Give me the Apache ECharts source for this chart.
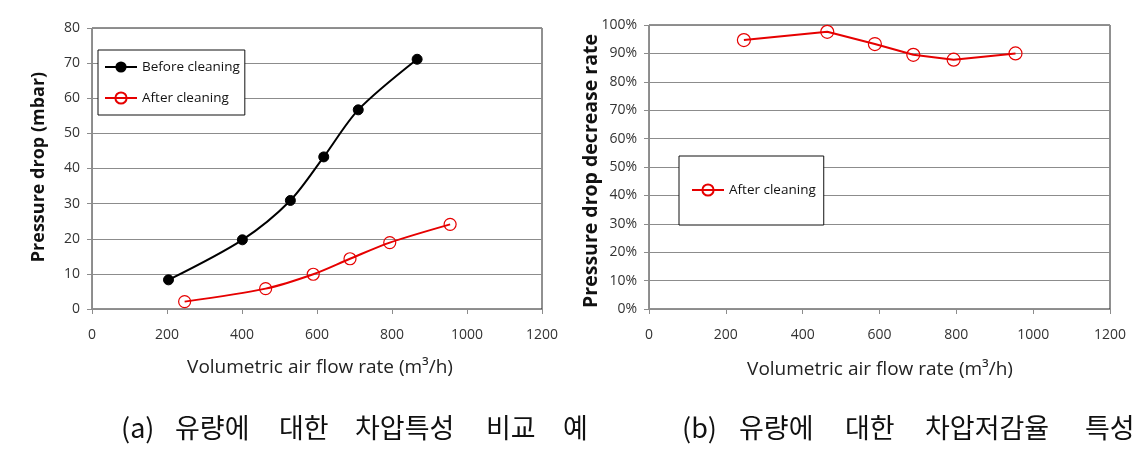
<!DOCTYPE html>
<html>
<head>
<meta charset="utf-8">
<script src="https://cdn.jsdelivr.net/npm/echarts@6/dist/echarts.min.js"></script>
<style>
html,body{margin:0;padding:0;background:#fff;}
#chart{width:1146px;height:456px;}
</style>
</head>
<body>
<div id="chart"></div>
<script>
// ---- data ----
const beforeFlow = [204, 401, 529, 618, 710, 867];
const beforeDrop = [8.3, 19.7, 30.9, 43.3, 56.7, 71.1];
const afterFlow = [247, 463, 590, 688, 794, 955];
const afterDrop = [2.1, 5.8, 9.9, 14.3, 18.9, 24.1];
const rateFlow = [247, 464, 588, 688, 793, 954];
const rateValue = [94.7, 97.6, 93.3, 89.5, 87.8, 90.0];

const xTitle = 'Volumetric air flow rate (m\u00B3/h)';
const yTitleA = 'Pressure drop (mbar)';
const yTitleB = 'Pressure drop decrease rate';
const captionA = ['(a)', '유량에', '대한', '차압특성', '비교', '예'];
const captionB = ['(b)', '유량에', '대한', '차압저감율', '특성'];

const pair = (xs, ys) => xs.map((x, i) => [x, ys[i]]);

const FONT = '"Open Sans", "Liberation Sans", sans-serif';
const gridColor = '#8c8c8c';
const axisLabel = {color: '#333', fontFamily: FONT, fontSize: 14};
const RED = '#e60000';

function xAxis(gridIndex) {
  return {
    type: 'value', gridIndex, min: 0, max: 1200, interval: 200,
    axisLine: {show: true, lineStyle: {color: gridColor}},
    axisTick: {show: true, length: 5, lineStyle: {color: gridColor}},
    splitLine: {show: false},
    axisLabel: Object.assign({margin: 19, formatter: v => String(v)}, axisLabel)
  };
}

const chart = echarts.init(document.getElementById('chart'), null, {renderer: 'canvas'});

const hollow = {color: 'rgba(255,255,255,0)', borderColor: RED, borderWidth: 1.2};

const option = {
  backgroundColor: '#fff',
  animation: false,
  grid: [
    {left: 92, top: 28, width: 450, height: 281, show: true, borderColor: '#222', borderWidth: 1, containLabel: false},
    {left: 649, top: 25, width: 461, height: 284, show: true, borderColor: '#222', borderWidth: 1, containLabel: false}
  ],
  xAxis: [xAxis(0), xAxis(1)],
  yAxis: [
    {
      type: 'value', gridIndex: 0, min: 0, max: 80, interval: 10,
      axisLine: {show: true, lineStyle: {color: gridColor}},
      axisTick: {show: true, length: 5, lineStyle: {color: gridColor}},
      splitLine: {show: true, lineStyle: {color: gridColor, width: 1}},
      axisLabel: Object.assign({margin: 12}, axisLabel)
    },
    {
      type: 'value', gridIndex: 1, min: 0, max: 100, interval: 10,
      axisLine: {show: true, lineStyle: {color: gridColor}},
      axisTick: {show: true, length: 5, lineStyle: {color: gridColor}},
      splitLine: {show: true, lineStyle: {color: gridColor, width: 1}},
      axisLabel: Object.assign({margin: 12, formatter: '{value}%'}, axisLabel)
    }
  ],
  legend: [
    {
      left: 98, top: 50, orient: 'vertical', itemGap: 17,
      itemWidth: 32, itemHeight: 14,
      padding: [10, 5, 10, 6],
      borderColor: '#111', borderWidth: 1, backgroundColor: '#fff',
      textStyle: {color: '#111', fontFamily: FONT, fontSize: 13.5},
      data: [{name: 'Before cleaning'}, {name: 'After cleaning'}],
      selectedMode: false
    },
    {
      left: 679, top: 156, orient: 'vertical',
      itemWidth: 32, itemHeight: 14,
      padding: [27, 8, 28, 12],
      borderColor: '#111', borderWidth: 1, backgroundColor: '#fff',
      textStyle: {color: '#111', fontFamily: FONT, fontSize: 13.5},
      data: [{name: 'After cleaning'}],
      selectedMode: false
    }
  ],
  series: [
    {
      name: 'Before cleaning', type: 'line', xAxisIndex: 0, yAxisIndex: 0,
      data: pair(beforeFlow, beforeDrop), smooth: 0.3,
      symbol: 'circle', symbolSize: 10,
      lineStyle: {color: '#000', width: 2},
      itemStyle: {color: '#000', borderColor: '#000'}
    },
    {
      name: 'After cleaning', type: 'line', xAxisIndex: 0, yAxisIndex: 0,
      data: pair(afterFlow, afterDrop), smooth: 0.3,
      symbol: 'circle', symbolSize: 12,
      lineStyle: {color: RED, width: 2},
      itemStyle: hollow
    },
    {
      name: 'After cleaning', type: 'line', xAxisIndex: 1, yAxisIndex: 1,
      data: pair(rateFlow, rateValue), smooth: false,
      symbol: 'circle', symbolSize: 13,
      lineStyle: {color: RED, width: 2},
      itemStyle: hollow
    }
  ]
};

// Axis titles and captions as graphic text
const g = [];
g.push({type: 'text', x: 320, y: 368, style: {text: xTitle, font: '19px ' + FONT, fill: '#222', align: 'center', verticalAlign: 'middle'}});
g.push({type: 'text', x: 880, y: 370, style: {text: xTitle, font: '19px ' + FONT, fill: '#222', align: 'center', verticalAlign: 'middle'}});
g.push({type: 'text', x: 39, y: 167, rotation: Math.PI / 2, style: {text: yTitleA, font: 'bold 18px ' + FONT, fill: '#111', align: 'center', verticalAlign: 'middle'}});
g.push({type: 'text', x: 591, y: 171, rotation: Math.PI / 2, style: {text: yTitleB, font: 'bold 19.5px ' + FONT, fill: '#111', align: 'center', verticalAlign: 'middle'}});

const capFont = '27px "Noto Sans CJK KR", sans-serif';
const capAx = [121, 175, 279, 355, 486, 563];
captionA.forEach((w, i) => g.push({type: 'text', x: capAx[i], y: 428, style: {text: w, font: capFont, fill: '#111', verticalAlign: 'middle'}}));
const capBx = [682, 739, 845, 925, 1085];
captionB.forEach((w, i) => g.push({type: 'text', x: capBx[i], y: 428, style: {text: w, font: capFont, fill: '#111', verticalAlign: 'middle'}}));
option.graphic = g;

chart.setOption(option);
</script>
</body>
</html>
